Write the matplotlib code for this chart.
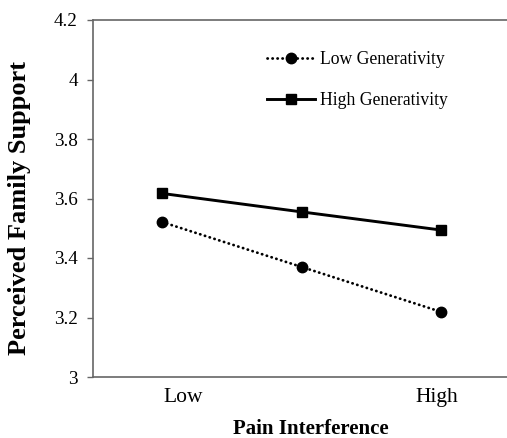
import matplotlib.pyplot as plt

# pain interference levels (low, mean, high)
x = [0, 1, 2]
tick_labels = ['Low', 'High']

low_gen = [3.521, 3.370, 3.219]    # Low Generativity
high_gen = [3.617, 3.555, 3.494]   # High Generativity

plt.rcParams['font.family'] = 'Liberation Serif'

fig = plt.figure(figsize=(5.07, 4.38), dpi=100)
ax = fig.add_axes([93/507, 61/438, 414/507, 357/438])

ax.plot(x, low_gen, color='black', linewidth=2, linestyle=(0, (0.1, 1.7)),
        dash_capstyle='round', marker='o', markersize=7.5, label='Low Generativity')
ax.plot(x, high_gen, color='black', linewidth=2.1, linestyle='-',
        marker='s', markersize=7, label='High Generativity')

ax.set_xlim(-0.495, 2.473)
ax.set_ylim(3, 4.2)
ax.set_yticks([3, 3.2, 3.4, 3.6, 3.8, 4, 4.2])
ax.set_yticklabels(['3', '3.2', '3.4', '3.6', '3.8', '4', '4.2'])
ax.set_xticks([0.155, 1.97])
ax.set_xticklabels(tick_labels)

ax.tick_params(axis='y', direction='out', length=4, width=1, color='#666666',
               labelsize=13.8, pad=7)
ax.tick_params(axis='x', length=0, labelsize=15.5, pad=8)

for side in ['left', 'bottom', 'top']:
    ax.spines[side].set_color('#666666')
    ax.spines[side].set_linewidth(1.2)
ax.spines['right'].set_visible(False)

ax.set_xlabel('Pain Interference', fontsize=15, fontweight='bold')
ax.xaxis.set_label_coords(0.527, -0.119)
ax.set_ylabel('Perceived Family Support', fontsize=19, fontweight='bold')
ax.yaxis.set_label_coords(-0.15, 0.472)

fig.legend(loc='upper left', bbox_to_anchor=(267/507, 1 - 51/438),
           frameon=False, fontsize=12.7, handlelength=2.72, handletextpad=0.3,
           labelspacing=1.35, borderpad=0, borderaxespad=0)

fig.savefig('out.png', dpi=100)
